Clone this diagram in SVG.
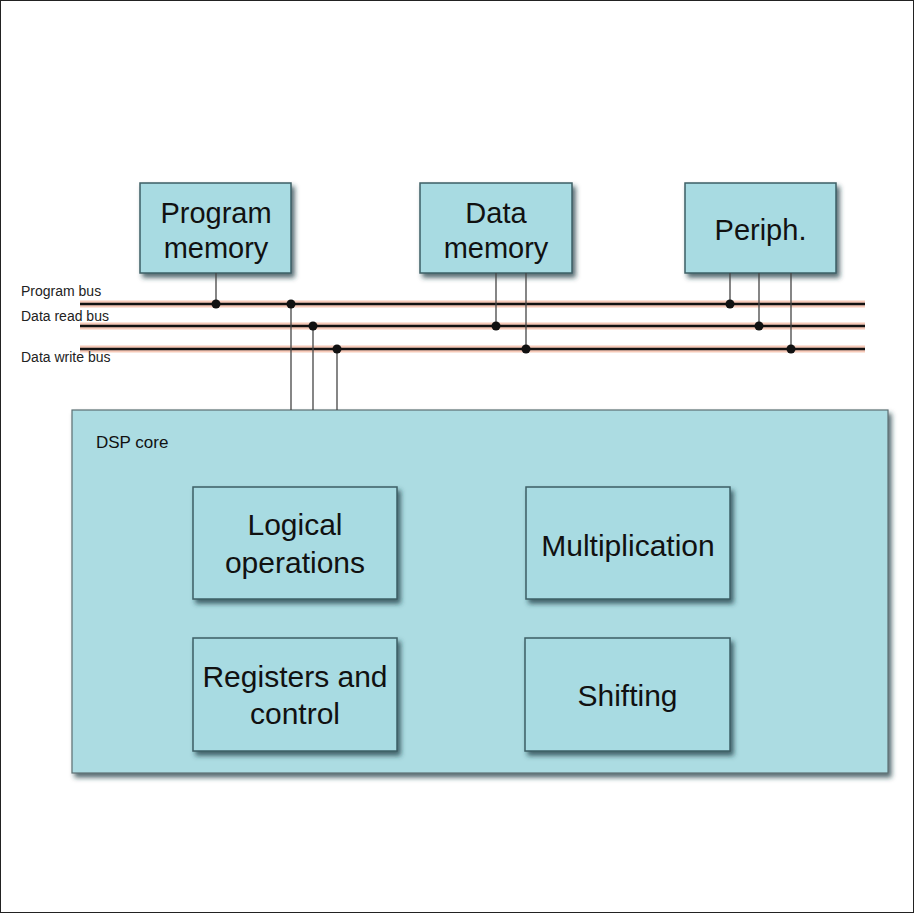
<svg xmlns="http://www.w3.org/2000/svg" width="914" height="913" viewBox="0 0 914 913">
<defs>
<filter id="sh" x="-10%" y="-10%" width="125%" height="130%">
<feDropShadow dx="3" dy="4" stdDeviation="2.5" flood-color="#1d3b40" flood-opacity="0.75"/>
</filter>
</defs>
<style>
.box{fill:#a8dbe2;stroke:#3d5f66;stroke-width:1.5;filter:url(#sh)}
.core{fill:#acdce2;stroke:#5a6f73;stroke-width:1.2;filter:url(#sh)}
.t{font-family:"Liberation Sans",Arial,sans-serif;fill:#111;text-anchor:middle}
.big{font-size:29px}
.mid{font-size:30px}
.lbl{font-family:"Liberation Sans",Arial,sans-serif;font-size:14px;fill:#222}
.halo{stroke:#f6c9b8;stroke-width:7;fill:none}
.bus{stroke:#111;stroke-width:2.5;fill:none}
.tap{stroke:#444;stroke-width:1.3;fill:none}
.dot{fill:#111}
</style>
<rect x="0.5" y="0.5" width="913" height="912" fill="#fff" stroke="#222" stroke-width="1"/>

<g id="program-memory">
<rect class="box" x="140" y="183" width="151" height="90"/>
<text class="t big" x="216" y="223">Program</text>
<text class="t big" x="216" y="258">memory</text>
</g>
<g id="data-memory">
<rect class="box" x="420" y="183" width="152" height="90"/>
<text class="t big" x="496" y="223">Data</text>
<text class="t big" x="496" y="258">memory</text>
</g>
<g id="periph">
<rect class="box" x="685" y="183" width="151" height="90"/>
<text class="t big" x="760.5" y="240">Periph.</text>
</g>

<g id="dsp-core">
<rect class="core" x="72" y="410" width="816" height="363"/>
<text class="lbl" x="96" y="448" style="font-size:17px;fill:#111">DSP core</text>
</g>
<g id="logical-operations">
<rect class="box" x="193" y="487" width="204" height="112"/>
<text class="t mid" x="295" y="535">Logical</text>
<text class="t mid" x="295" y="573">operations</text>
</g>
<g id="multiplication">
<rect class="box" x="526" y="487" width="204" height="112"/>
<text class="t mid" x="628" y="556">Multiplication</text>
</g>
<g id="registers-and-control">
<rect class="box" x="193" y="638" width="204" height="113"/>
<text class="t mid" x="295" y="687">Registers and</text>
<text class="t mid" x="295" y="724">control</text>
</g>
<g id="shifting">
<rect class="box" x="525" y="638" width="205" height="113"/>
<text class="t mid" x="627.5" y="706">Shifting</text>
</g>

<g id="buses">
<line class="halo" x1="80" y1="304" x2="865" y2="304"/>
<line class="halo" x1="80" y1="326" x2="865" y2="326"/>
<line class="halo" x1="80" y1="349" x2="865" y2="349"/>
<line class="bus" x1="80" y1="304" x2="865" y2="304"/>
<line class="bus" x1="80" y1="326" x2="865" y2="326"/>
<line class="bus" x1="80" y1="349" x2="865" y2="349"/>
<text class="lbl" x="21" y="296">Program bus</text>
<text class="lbl" x="21" y="321">Data read bus</text>
<text class="lbl" x="21" y="362">Data write bus</text>
</g>

<g id="connectors">
<line class="tap" x1="216" y1="273" x2="216" y2="304"/>
<line class="tap" x1="291" y1="304" x2="291" y2="410"/>
<line class="tap" x1="313" y1="326" x2="313" y2="410"/>
<line class="tap" x1="337" y1="349" x2="337" y2="410"/>
<line class="tap" x1="496" y1="273" x2="496" y2="326"/>
<line class="tap" x1="526" y1="273" x2="526" y2="349"/>
<line class="tap" x1="730" y1="273" x2="730" y2="304"/>
<line class="tap" x1="759" y1="273" x2="759" y2="326"/>
<line class="tap" x1="791" y1="273" x2="791" y2="349"/>
<circle class="dot" cx="216" cy="304" r="4.5"/>
<circle class="dot" cx="291" cy="304" r="4.5"/>
<circle class="dot" cx="313" cy="326" r="4.5"/>
<circle class="dot" cx="337" cy="349" r="4.5"/>
<circle class="dot" cx="496" cy="326" r="4.5"/>
<circle class="dot" cx="526" cy="349" r="4.5"/>
<circle class="dot" cx="730" cy="304" r="4.5"/>
<circle class="dot" cx="759" cy="326" r="4.5"/>
<circle class="dot" cx="791" cy="349" r="4.5"/>
</g>
</svg>
